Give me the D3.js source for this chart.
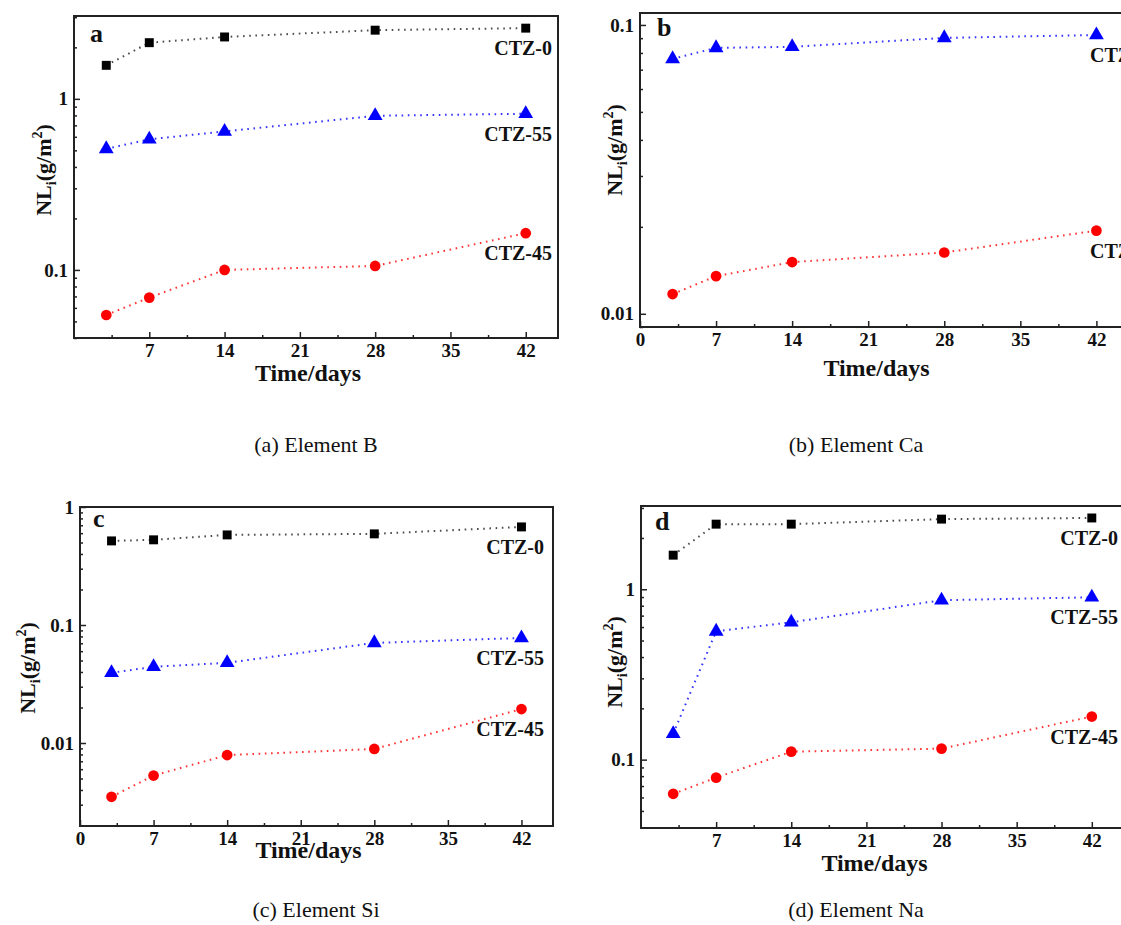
<!DOCTYPE html>
<html>
<head>
<meta charset="utf-8">
<script src="https://cdn.jsdelivr.net/npm/d3@7"></script>
<style>
  body { margin: 0; background: #fff; }
  svg { display: block; }
  text { font-family: "Liberation Serif", "Times New Roman", serif; }
</style>
</head>
<body>
<div id="container"></div>
<script>
/* DATA */
const days = [3, 7, 14, 28, 42];
const seriesNames = ["CTZ-0", "CTZ-55", "CTZ-45"];
const xTickDays = [0, 7, 14, 21, 28, 35, 42];

// (a) Element B
const bCTZ0  = [1.57, 2.13, 2.30, 2.52, 2.59];
const bCTZ55 = [0.51, 0.58, 0.645, 0.796, 0.818];
const bCTZ45 = [0.0545, 0.0689, 0.100, 0.1055, 0.164];
// (b) Element Ca
const caCTZ55 = [0.0763, 0.0833, 0.0840, 0.0902, 0.0923];
const caCTZ45 = [0.0117, 0.0135, 0.0151, 0.0163, 0.0194];
// (c) Element Si
const siCTZ0  = [0.516, 0.527, 0.580, 0.592, 0.678];
const siCTZ55 = [0.0394, 0.0442, 0.0478, 0.0705, 0.0777];
const siCTZ45 = [0.0035, 0.0053, 0.0079, 0.0089, 0.0194];
// (d) Element Na
const naCTZ0  = [1.585, 2.41, 2.41, 2.58, 2.62];
const naCTZ55 = [0.142, 0.566, 0.640, 0.862, 0.897];
const naCTZ45 = [0.063, 0.0784, 0.1114, 0.116, 0.179];

/* CONSTANTS */
const width = 1121;
const height = 925;
const colors = { "CTZ-0": "#000000", "CTZ-55": "#0000ff", "CTZ-45": "#ff0000" };
const shapes = { "CTZ-0": d3.symbolSquare, "CTZ-55": d3.symbolTriangle, "CTZ-45": d3.symbolCircle };
const sizes = { "CTZ-0": 80, "CTZ-55": 95, "CTZ-45": 90 };

const panels = [
  { letter: "a", caption: "(a) Element B", capX: 316, capY: 452,
    x0: 74, x1: 558, y0: 16, y1: 338, yDomain: [0.04, 3.05], xShowZero: false,
    series: [["CTZ-0", bCTZ0], ["CTZ-55", bCTZ55], ["CTZ-45", bCTZ45]],
    labelAnchor: "end", labelX: 552, titleX: 43, titleY: 170, xTitleY: 381, letterDx: 16, letterDy: 26 },
  { letter: "b", caption: "(b) Element Ca", capX: 856, capY: 452,
    x0: 640, x1: 1129, y0: 13, y1: 327, yDomain: [0.009, 0.11], xShowZero: true,
    series: [["CTZ-55", caCTZ55], ["CTZ-45", caCTZ45]],
    labelAnchor: "start", labelX: 1090, titleX: 614, titleY: 150, xTitleY: 376, letterDx: 17, letterDy: 23 },
  { letter: "c", caption: "(c) Element Si", capX: 316, capY: 917,
    x0: 80, x1: 553, y0: 507, y1: 826, yDomain: [0.00198, 1], xShowZero: true,
    series: [["CTZ-0", siCTZ0], ["CTZ-55", siCTZ55], ["CTZ-45", siCTZ45]],
    labelAnchor: "end", labelX: 544, titleX: 27, titleY: 668, xTitleY: 858, letterDx: 13, letterDy: 20 },
  { letter: "d", caption: "(d) Element Na", capX: 856, capY: 917,
    x0: 641, x1: 1124, y0: 506, y1: 828, yDomain: [0.0397, 3.08], xShowZero: false,
    series: [["CTZ-0", naCTZ0], ["CTZ-55", naCTZ55], ["CTZ-45", naCTZ45]],
    labelAnchor: "end", labelX: 1118, titleX: 614, titleY: 662, xTitleY: 871, letterDx: 14, letterDy: 24 }
];

const svg = d3.select("#container")
  .append("svg")
  .attr("width", width)
  .attr("height", height);

// minor ticks 2..9 inside each decade of the log domain
function logMinor(domain) {
  const out = [];
  const lo = Math.floor(Math.log10(domain[0]));
  const hi = Math.ceil(Math.log10(domain[1]));
  for (let k = lo; k <= hi; k++) {
    for (let m = 2; m <= 9; m++) {
      const v = m * Math.pow(10, k);
      if (v >= domain[0] && v <= domain[1]) out.push(v);
    }
  }
  return out;
}
function logMajor(domain) {
  const out = [];
  for (let k = Math.ceil(Math.log10(domain[0]) - 1e-9); Math.pow(10, k) <= domain[1] * 1.0001; k++) {
    out.push(Math.pow(10, k));
  }
  return out;
}
const fmtY = v => (v >= 1 ? d3.format("d")(v) : String(+v.toPrecision(1)));

panels.forEach(p => {
  const g = svg.append("g");

  /* SCALES */
  const xScale = d3.scaleLinear().domain([0, 45]).range([p.x0, p.x1]);
  const yScale = d3.scaleLog().domain(p.yDomain).range([p.y1, p.y0]);

  /* AXES (ticks pointing inward) */
  const xMajor = p.xShowZero ? xTickDays : xTickDays.filter(d => d > 0);
  g.append("g")
    .attr("transform", `translate(0, ${p.y1})`)
    .call(d3.axisBottom(xScale).tickValues(xTickDays.slice(1).map(d => d - 3.5)).tickSize(-3).tickFormat(""))
    .call(a => a.select(".domain").remove())
    .call(a => a.selectAll("line").attr("stroke", "#222").attr("stroke-width", 1.5));
  g.append("g")
    .attr("transform", `translate(0, ${p.y1})`)
    .call(d3.axisBottom(xScale).tickValues(xMajor).tickSize(-6).tickPadding(6).tickFormat(d3.format("d")))
    .call(a => a.select(".domain").remove())
    .call(a => a.selectAll("line").attr("stroke", "#222").attr("stroke-width", 1.5))
    .call(a => a.selectAll("text").attr("font-size", 19).attr("font-weight", "bold").attr("fill", "#111")
      .attr("font-family", "Liberation Serif"));

  g.append("g")
    .attr("transform", `translate(${p.x0}, 0)`)
    .call(d3.axisLeft(yScale).tickValues(logMinor(p.yDomain)).tickSize(-3).tickFormat(""))
    .call(a => a.select(".domain").remove())
    .call(a => a.selectAll("line").attr("stroke", "#222").attr("stroke-width", 1.5));
  g.append("g")
    .attr("transform", `translate(${p.x0}, 0)`)
    .call(d3.axisLeft(yScale).tickValues(logMajor(p.yDomain)).tickSize(-6).tickPadding(6).tickFormat(fmtY))
    .call(a => a.select(".domain").remove())
    .call(a => a.selectAll("line").attr("stroke", "#222").attr("stroke-width", 1.5))
    .call(a => a.selectAll("text").attr("font-size", 19).attr("font-weight", "bold").attr("fill", "#111")
      .attr("font-family", "Liberation Serif"));

  // frame
  g.append("rect")
    .attr("x", p.x0).attr("y", p.y0)
    .attr("width", p.x1 - p.x0).attr("height", p.y1 - p.y0)
    .attr("fill", "none").attr("stroke", "#222").attr("stroke-width", 2);

  /* SERIES */
  const line = d3.line().x(d => xScale(d[0])).y(d => yScale(d[1]));
  p.series.forEach(([name, vals]) => {
    const pts = days.map((d, i) => [d, vals[i]]);
    g.append("path")
      .attr("d", line(pts))
      .attr("fill", "none")
      .attr("stroke", colors[name])
      .attr("stroke-width", 2)
      .attr("stroke-dasharray", "1.6,4.6")
      .attr("opacity", name === "CTZ-0" ? 0.7 : 0.8);
    g.selectAll(null)
      .data(pts)
      .join("path")
      .attr("transform", d => `translate(${xScale(d[0])}, ${yScale(d[1])})`)
      .attr("d", d3.symbol().type(shapes[name]).size(sizes[name]))
      .attr("fill", colors[name]);
    const last = pts[pts.length - 1];
    g.append("text")
      .attr("x", p.labelX)
      .attr("y", yScale(last[1]) + 27)
      .attr("text-anchor", p.labelAnchor)
      .attr("font-size", 20)
      .attr("font-weight", "bold")
      .attr("fill", "#111")
      .text(name);
  });

  // panel letter
  g.append("text")
    .attr("x", p.x0 + p.letterDx)
    .attr("y", p.y0 + p.letterDy)
    .attr("font-size", 26)
    .attr("font-weight", "bold")
    .attr("fill", "#111")
    .text(p.letter);

  // x title
  g.append("text")
    .attr("x", (p.x0 + p.x1) / 2 - 8)
    .attr("y", p.xTitleY)
    .attr("text-anchor", "middle")
    .attr("font-size", 24)
    .attr("font-weight", "bold")
    .attr("fill", "#111")
    .text("Time/days");

  // y title NL_i(g/m^2)
  const yt = g.append("text")
    .attr("transform", `translate(${p.titleX + 8}, ${p.titleY}) rotate(-90)`)
    .attr("text-anchor", "middle")
    .attr("font-size", 22)
    .attr("font-weight", "bold")
    .attr("fill", "#111");
  yt.append("tspan").text("NL");
  yt.append("tspan").attr("dy", 5).attr("font-size", 14).text("i");
  yt.append("tspan").attr("dy", -5).text("(g/m");
  yt.append("tspan").attr("dy", -9).attr("font-size", 14).text("2");
  yt.append("tspan").attr("dy", 9).text(")");

  // caption
  svg.append("text")
    .attr("x", p.capX)
    .attr("y", p.capY)
    .attr("text-anchor", "middle")
    .attr("font-size", 22)
    .attr("fill", "#111")
    .text(p.caption);
});
</script>
</body>
</html>
